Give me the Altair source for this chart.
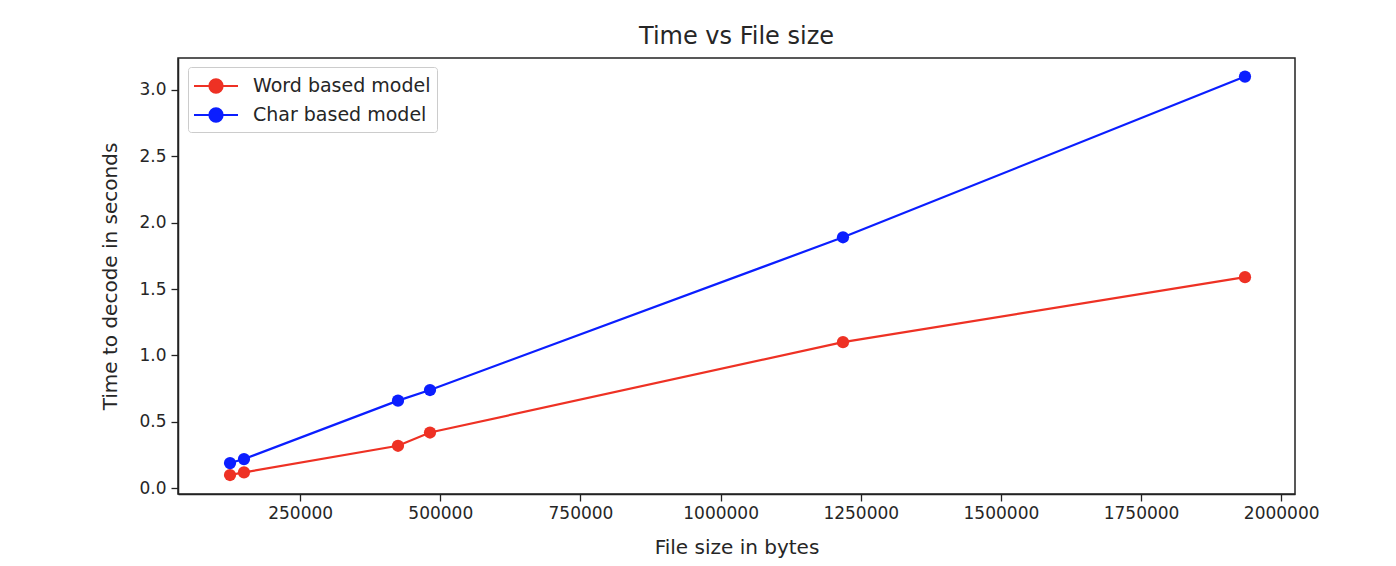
import altair as alt
import pandas as pd

file_sizes = [124900, 149800, 424500, 481600, 1218300, 1935400]
word_times = [0.10, 0.12, 0.32, 0.42, 1.10, 1.59]
char_times = [0.19, 0.22, 0.66, 0.74, 1.89, 3.10]
series_names = ["Word based model", "Char based model"]
series_colors = ["#ee3124", "#0b1eff"]
x_ticks = [250000, 500000, 750000, 1000000, 1250000, 1500000, 1750000, 2000000]
y_ticks = [0.0, 0.5, 1.0, 1.5, 2.0, 2.5, 3.0]

rows = []
for name, vals in zip(series_names, [word_times, char_times]):
    for i, (x, y) in enumerate(zip(file_sizes, vals)):
        rows.append({"size": x, "time": y, "model": name, "order": i})
df = pd.DataFrame(rows)

FONT = "DejaVu Sans"
TXT = "#262626"
legend_symbol = "M-1.85,0L1.85,0M0.55,0A0.55,0.55,0,1,1,-0.55,0A0.55,0.55,0,1,1,0.55,0Z"

x_enc = alt.X("size:Q", title="File size in bytes",
              scale=alt.Scale(domain=[32100, 2024600], nice=False, zero=False),
              axis=alt.Axis(values=x_ticks, format="d", grid=False, tickSize=7,
                            labelPadding=4, titlePadding=16))
y_enc = alt.Y("time:Q", title="Time to decode in seconds",
              scale=alt.Scale(domain=[-0.043, 3.24], nice=False, zero=False),
              axis=alt.Axis(values=y_ticks, format=".1f", grid=False, tickSize=7,
                            labelPadding=5, titlePadding=18))
color_enc = alt.Color("model:N", sort=series_names,
                      scale=alt.Scale(domain=series_names, range=series_colors),
                      legend=alt.Legend(title=None, orient="none", legendX=10, legendY=9,
                                        symbolType=legend_symbol, symbolSize=566,
                                        symbolOffset=9,
                                        symbolStrokeWidth=2.2, labelFontSize=19,
                                        labelFont=FONT, labelColor=TXT, labelLimit=400,
                                        strokeColor="#cccccc", fillColor="white",
                                        cornerRadius=3, padding=6, rowPadding=5,
                                        labelOffset=24))

base = alt.Chart(df).encode(x=x_enc, y=y_enc, color=color_enc, order="order:Q")
chart = base.mark_line(strokeWidth=2.2, point=alt.OverlayMarkDef(filled=True, size=150, opacity=1)).properties(
    width=1117, height=436,
    title=alt.TitleParams("Time vs File size", fontSize=24, font=FONT, fontWeight="normal",
                          color=TXT, anchor="middle", offset=9),
    padding={"left": 170, "top": 50, "right": 85, "bottom": 64},
    autosize=alt.AutoSizeParams(type="none"),
).configure_view(stroke="#222222", strokeWidth=1.5).configure_axis(
    domainColor="#222222", domainWidth=1.5, tickColor="#222222", tickWidth=1.3,
    labelFont=FONT, labelFontSize=17, labelColor=TXT,
    titleFont=FONT, titleFontSize=20, titleColor=TXT, titleFontWeight="normal",
)

chart.save("out.html", embed_options={"renderer": "svg", "actions": False})
